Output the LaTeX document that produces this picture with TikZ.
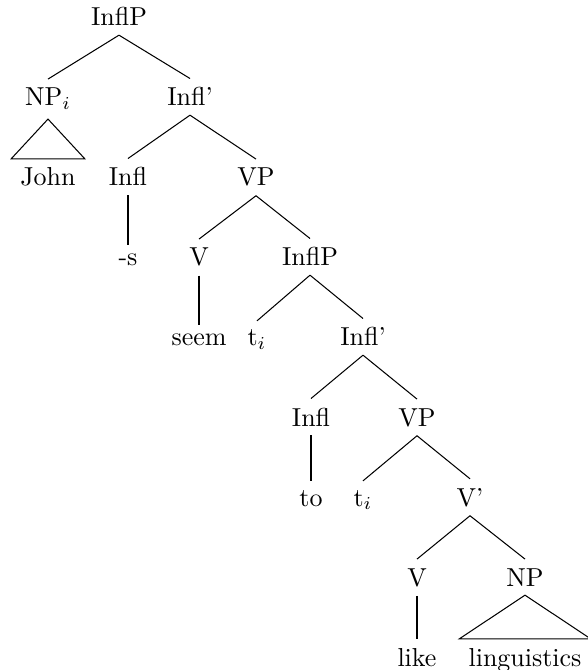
\documentclass[tikz,border=0pt]{standalone}
\usetikzlibrary{calc}

\begin{document}
\begin{tikzpicture}[x=0.385pt, y=-0.385pt, every node/.style={anchor=base}]
\useasboundingbox (0,0) rectangle (587,670);
% categories and words, one row per level
\node (ip)    at (119,26)  {InflP};
\node (np)    at (48,106)  {NP$_i$};
\node (ibar)  at (190,106) {Infl'};
\node (john)  at (48,186)  {John};
\node (infl)  at (128,186) {Infl};
\node (vp)    at (256,186) {VP};
\node (s)     at (128,266) {-s};
\node (v)     at (199,266) {V};
\node (ipb)   at (310,266) {InflP};
\node (seem)  at (199,346) {seem};
\node (ta)    at (257,346) {t$_i$};
\node (ibarb) at (363,346) {Infl'};
\node (inflb) at (311,426) {Infl};
\node (vpb)   at (417,426) {VP};
\node (to)    at (311,506) {to};
\node (tb)    at (363,506) {t$_i$};
\node (vbar)  at (470,506) {V'};
\node (vb)    at (417,586) {V};
\node (npb)   at (525,586) {NP};
\node (like)  at (417,666) {like};
\node (ling)  at (525,666) {linguistics};

\foreach \a/\b in {ip/np, ip/ibar, ibar/infl, ibar/vp, vp/v, vp/ipb,
  ipb/ta, ipb/ibarb, ibarb/inflb, ibarb/vpb, vpb/tb,
  vpb/vbar, vbar/vb, vbar/npb}
  \draw (\a.south) -- (\b.north);
% unary branches, kept vertical
\foreach \a/\b in {infl/s, v/seem, inflb/to, vb/like}
  \draw (\a.south) -- (\a.south |- \b.north);

% roofs
\draw (np.south) -- (john.north west) -- (john.north east) -- cycle;
\draw (npb.south) -- (ling.north west) -- (ling.north east) -- cycle;

\end{tikzpicture}
\end{document}
